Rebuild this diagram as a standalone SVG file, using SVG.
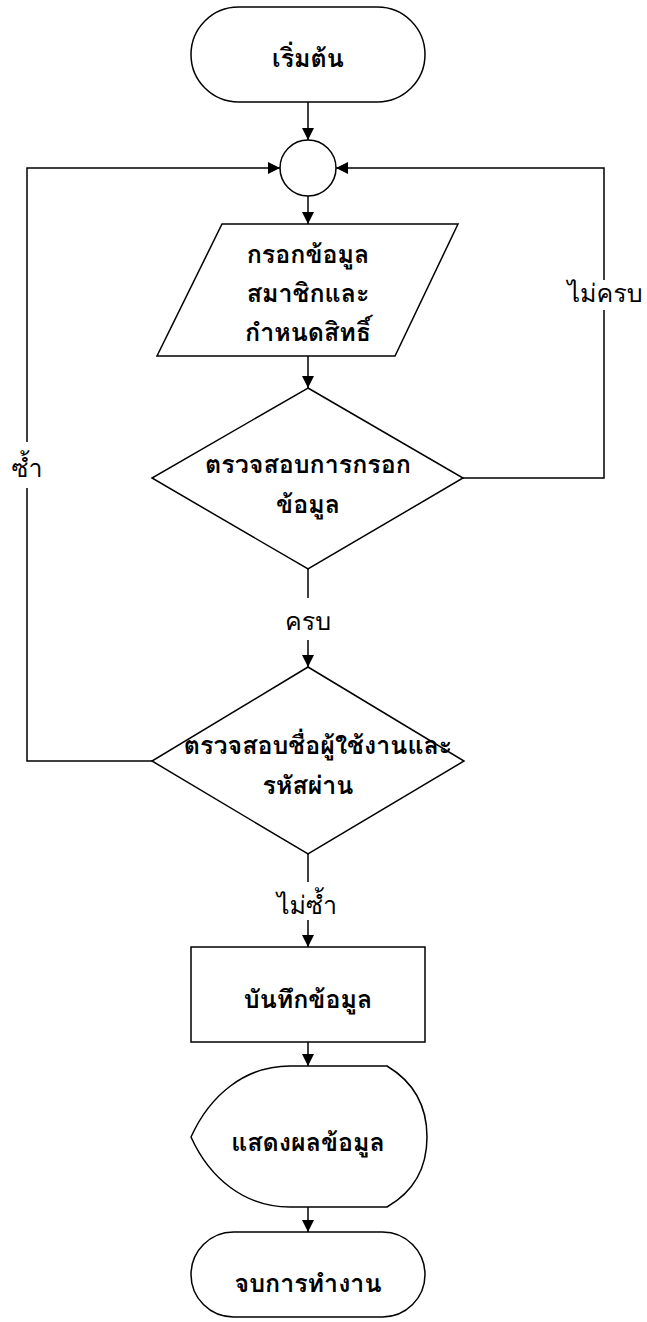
<svg xmlns="http://www.w3.org/2000/svg" width="647" height="1322" viewBox="0 0 647 1322">
<style>
.shape{fill:#fff;stroke:#000;stroke-width:1.5}
.conn{fill:none;stroke:#000;stroke-width:1.5}
.t{font-family:"Tahoma","Loma","Garuda","Noto Sans Thai Looped","Noto Sans Thai","Noto Sans","DejaVu Sans",sans-serif;font-size:25px;font-weight:bold;text-anchor:middle;fill:#000}
.l{font-family:"Tahoma","Loma","Garuda","Noto Sans Thai Looped","Noto Sans Thai","Noto Sans","DejaVu Sans",sans-serif;font-size:25px;text-anchor:middle;fill:#000}
.bg{fill:#fff}
</style>
<defs>
<marker id="arr" markerUnits="userSpaceOnUse" markerWidth="12" markerHeight="12" refX="12" refY="6" orient="auto">
<path d="M0,0 L12,6 L0,12 z" fill="#000"/>
</marker>
</defs>
<g id="connectors">
<path class="conn" d="M308,102 L308,140" marker-end="url(#arr)"/>
<path class="conn" d="M308,196 L308,224" marker-end="url(#arr)"/>
<path class="conn" d="M308,356 L308,388" marker-end="url(#arr)"/>
<path class="conn" d="M308,569 L308,667" marker-end="url(#arr)"/>
<path class="conn" d="M463,478 L604,478 L604,168 L336,168" marker-end="url(#arr)"/>
<path class="conn" d="M152,761 L27,761 L27,168 L280,168" marker-end="url(#arr)"/>
<path class="conn" d="M308,854 L308,947" marker-end="url(#arr)"/>
<path class="conn" d="M308,1042 L308,1066" marker-end="url(#arr)"/>
<path class="conn" d="M308,1207 L308,1232" marker-end="url(#arr)"/>
<g id="labels">
<rect class="bg" x="278" y="598" width="60" height="42"/>
<text class="l" x="308" y="630">ครบ</text>
<rect class="bg" x="562" y="280" width="85" height="30"/>
<text class="l" x="605" y="302">ไม่ครบ</text>
<rect class="bg" x="5" y="442" width="44" height="46"/>
<text class="l" x="27" y="477">ซ้ำ</text>
<rect class="bg" x="272" y="882" width="72" height="38"/>
<text class="l" x="307" y="914">ไม่ซ้ำ</text>
</g>
</g>
<g id="start">
<rect class="shape" x="191" y="7" width="234" height="95" rx="47.5"/>
<text class="t" x="308" y="67">เริ่มต้น</text>
</g>
<g id="junction">
<circle class="shape" cx="308" cy="168" r="28"/>
</g>
<g id="input">
<polygon class="shape" points="222,224 458,224 395,356 157,356"/>
<text class="t" x="308" y="263">กรอกข้อมูล</text>
<text class="t" x="308" y="302">สมาชิกและ</text>
<text class="t" x="308" y="341">กำหนดสิทธิ์</text>
</g>
<g id="check-input">
<polygon class="shape" points="308,388 463,478 308,569 152,478"/>
<text class="t" x="308" y="473">ตรวจสอบการกรอก</text>
<text class="t" x="308" y="513">ข้อมูล</text>
</g>
<g id="check-user">
<polygon class="shape" points="308,667 464,761 308,854 152,761"/>
<text class="t" x="318" y="754">ตรวจสอบชื่อผู้ใช้งานและ</text>
<text class="t" x="308" y="794">รหัสผ่าน</text>
</g>
<g id="save">
<rect class="shape" x="191" y="947" width="234" height="95"/>
<text class="t" x="308" y="1008">บันทึกข้อมูล</text>
</g>
<g id="display">
<path class="shape" d="M191,1137 C210,1095 245,1066 290,1066 L387,1066 Q427,1090 427,1137 Q427,1184 387,1207 L290,1207 C245,1207 210,1179 191,1137 Z"/>
<text class="t" x="308" y="1151">แสดงผลข้อมูล</text>
</g>
<g id="end">
<rect class="shape" x="191" y="1232" width="234" height="85" rx="42.5"/>
<text class="t" x="308" y="1292">จบการทำงาน</text>
</g>
</svg>
